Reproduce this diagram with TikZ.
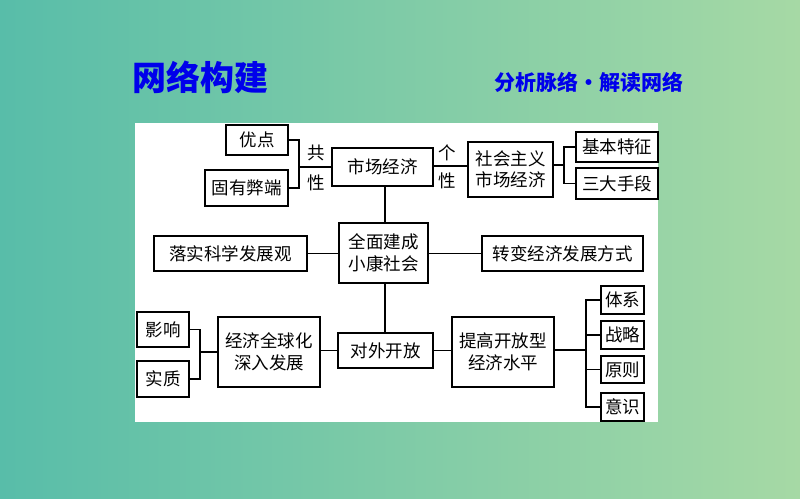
\documentclass[tikz,border=0pt]{standalone}
\usepackage{fontspec}
\newfontfamily\cjk{Noto Sans CJK SC}
\definecolor{bgL}{RGB}{88,189,169}
\definecolor{bgR}{RGB}{166,217,165}
\definecolor{ttl}{RGB}{0,0,235}
\tikzset{
  bx/.style={draw=black,line width=1.3pt,fill=white,inner sep=0pt,align=center,font=\cjk\fontsize{17.5}{21.5}\selectfont},
  ln/.style={draw=black,line width=1.3pt},
  lbl/.style={inner sep=0pt,font=\cjk\fontsize{17.5}{21}\selectfont}
}
\begin{document}
\begin{tikzpicture}[x=1pt,y=-1pt]
\shade[left color=bgL,right color=bgR] (0,0) rectangle (800,498);
\useasboundingbox (0,0) rectangle (800,498);
\fill[white] (135,123) rectangle (658,422);
\node[inner sep=0pt,text=ttl,font=\cjk\bfseries\fontsize{34}{36}\selectfont] (title) at (200,77) {网络构建};
\node[inner sep=0pt,text=ttl,font=\cjk\bfseries\fontsize{21}{24}\selectfont] (sub) at (589,82) {分析脉络・解读网络};
% boxes
\node[bx,minimum width=62pt,minimum height=30pt] (youdian) at (257,140) {优点};
\node[bx,minimum width=83pt,minimum height=36pt] (guyou) at (246.5,188) {固有弊端};
\node[bx,minimum width=101pt,minimum height=38pt] (shichang) at (382.5,167) {市场经济};
\node[bx,minimum width=85pt,minimum height=55pt] (shehui) at (510.5,169.5) {社会主义\\市场经济};
\node[bx,minimum width=82pt,minimum height=30pt] (jiben) at (617,147) {基本特征};
\node[bx,minimum width=82pt,minimum height=31pt] (sanda) at (617,183.5) {三大手段};
\node[bx,minimum width=89pt,minimum height=60pt] (quanmian) at (383.5,253) {全面建成\\小康社会};
\node[bx,minimum width=153pt,minimum height=35pt] (luoshi) at (230.5,253.5) {落实科学发展观};
\node[bx,minimum width=161pt,minimum height=35pt] (zhuanbian) at (562.5,253.5) {转变经济发展方式};
\node[bx,minimum width=95pt,minimum height=35pt] (duiwai) at (385.5,350.5) {对外开放};
\node[bx,minimum width=102pt,minimum height=70pt] (jingji) at (269,352) {经济全球化\\深入发展};
\node[bx,minimum width=52pt,minimum height=35pt] (yingxiang) at (163,329.5) {影响};
\node[bx,minimum width=52pt,minimum height=36pt] (shizhi) at (163,379) {实质};
\node[bx,minimum width=102pt,minimum height=70pt] (tigao) at (503,352) {提高开放型\\经济水平};
\node[bx,minimum width=43pt,minimum height=28pt] (tixi) at (622.5,300) {体系};
\node[bx,minimum width=43pt,minimum height=28pt] (zhanlue) at (622.5,335) {战略};
\node[bx,minimum width=43pt,minimum height=27pt] (yuanze) at (622.5,369.5) {原则};
\node[bx,minimum width=43pt,minimum height=28pt] (yishi) at (622.5,407) {意识};
% labels
\node[lbl] (gong) at (316,153) {共};
\node[lbl] (xing1) at (316,183) {性};
\node[lbl] (ge) at (447,153) {个};
\node[lbl] (xing2) at (447,181) {性};
% junctions
\coordinate (cj) at (299,167);
\coordinate (cs) at (564,165);
\coordinate (cy) at (200,352);
\coordinate (ct) at (586,350);
\coordinate (vx) at (385,0);
\coordinate (hy) at (0,166);
% connectors
\draw[ln] (youdian.east) -| (cj) |- (guyou.east);
\draw[ln] (cj) -- (shichang.west);
\draw[ln] (hy -| shichang.east) -- (hy -| shehui.west);
\draw[ln] (cs -| shehui.east) -- (cs);
\draw[ln] (jiben.west) -| (cs) |- (sanda.west);
\draw[ln] (vx |- shichang.south) -- (vx |- quanmian.north);
\draw[ln] (luoshi.east) -- (luoshi.east -| quanmian.west);
\draw[ln] (zhuanbian.west -| quanmian.east) -- (zhuanbian.west);
\draw[ln] (vx |- quanmian.south) -- (vx |- duiwai.north);
\draw[ln] (duiwai.west) -- (duiwai.west -| jingji.east);
\draw[ln] (yingxiang.east) -| (cy) |- (shizhi.east);
\draw[ln] (cy) -- (cy -| jingji.west);
\draw[ln] (duiwai.east) -- (duiwai.east -| tigao.west);
\draw[ln] (ct -| tigao.east) -- (ct);
\draw[ln] (tixi.west) -| (ct) |- (yishi.west);
\draw[ln] (ct |- zhanlue.west) -- (zhanlue.west);
\draw[ln] (ct |- yuanze.west) -- (yuanze.west);
\end{tikzpicture}
\end{document}
